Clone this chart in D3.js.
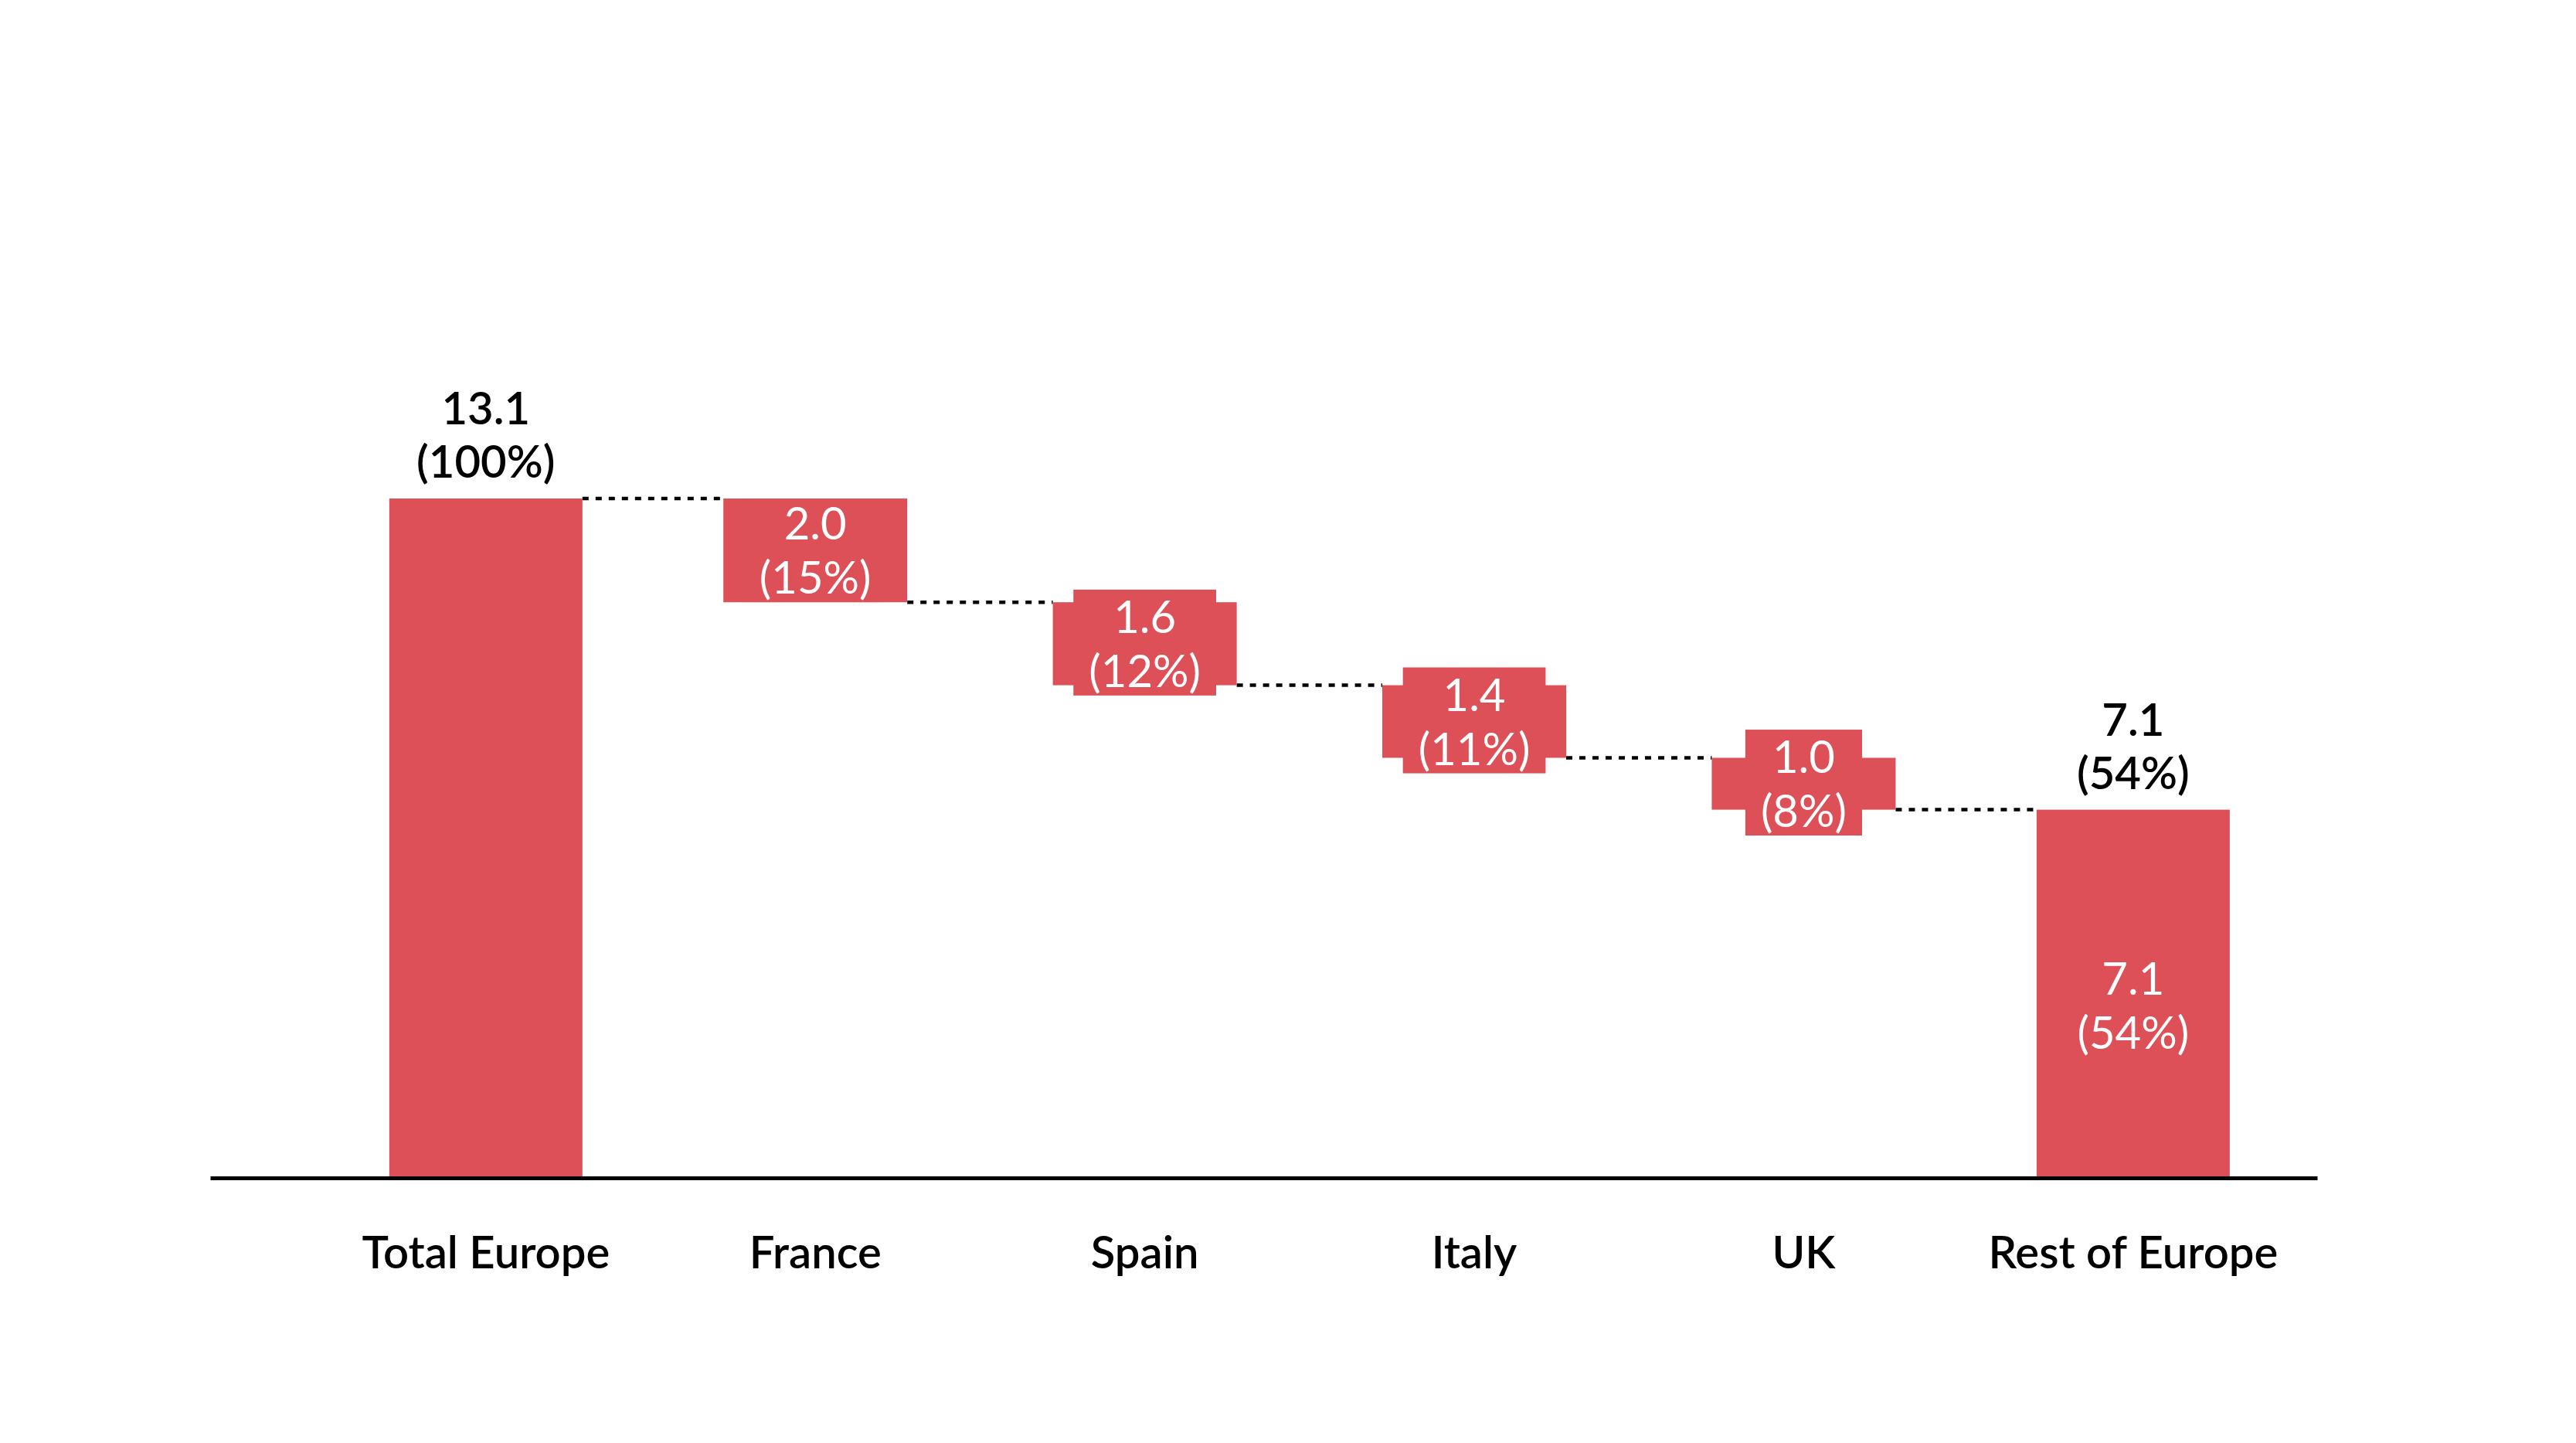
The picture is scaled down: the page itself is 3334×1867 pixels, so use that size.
<!DOCTYPE html>
<html>
<head>
<meta charset="utf-8">
<script src="https://cdn.jsdelivr.net/npm/d3@7"></script>
<style>
  html, body { margin: 0; padding: 0; background: #ffffff; }
  svg { display: block; }
</style>
</head>
<body>
<script>
// ---- data ----
const categories = ["Total Europe", "France", "Spain", "Italy", "UK", "Rest of Europe"];
const values = [13.1, 2.0, 1.6, 1.4, 1.0, 7.1];
const barTypes = ["total", "delta", "delta", "delta", "delta", "total"];
const valueLabels = ["13.1", "2.0", "1.6", "1.4", "1.0", "7.1"];
const shareLabels = ["(100%)", "(15%)", "(12%)", "(11%)", "(8%)", "(54%)"];
const showInside = [false, true, true, true, true, true];

// ---- layout ----
const W = 3334, H = 1867;
const baseY = 1524;
const topY = 645;
const RED = "#DD5057";
const FONT = "Lato, 'Open Sans', sans-serif";
const FS = 58;

const svg = d3.select("body").append("svg")
  .attr("width", W).attr("height", H)
  .attr("viewBox", `0 0 ${W} ${H}`);

const x = d3.scaleBand()
  .domain(categories)
  .range([272, 2999])
  .paddingInner(0.4137)
  .paddingOuter(0.4045)
  .align(0.672);

const y = d3.scaleLinear()
  .domain([0, d3.max(values)])
  .range([baseY, topY]);

// compute waterfall segments
let running = 0;
const bars = categories.map((c, i) => {
  let lo, hi;
  if (barTypes[i] === "total") {
    lo = 0; hi = values[i]; running = values[i];
  } else {
    hi = running; lo = running - values[i]; running = lo;
  }
  return { cat: c, i, lo, hi, type: barTypes[i], level: barTypes[i] === "total" ? hi : lo };
});

const bw = x.bandwidth();
const inset = 6;
const left = d => x(d.cat) + (d.type === "delta" ? inset : 0);
const right = d => x(d.cat) + bw - (d.type === "delta" ? inset : 0);

// connectors
const conn = bars.slice(0, -1).map((d, k) => ({ x1: right(d), x2: left(bars[k + 1]), yv: d.level }));
svg.append("g").selectAll("line").data(conn).join("line")
  .attr("x1", d => d.x1).attr("x2", d => d.x2)
  .attr("y1", d => y(d.yv)).attr("y2", d => y(d.yv))
  .attr("stroke", "#000").attr("stroke-width", 4.5)
  .attr("stroke-dasharray", "8,9");

// bars
svg.append("g").selectAll("rect").data(bars).join("rect")
  .attr("x", d => left(d))
  .attr("width", d => right(d) - left(d))
  .attr("y", d => y(d.hi))
  .attr("height", d => y(d.lo) - y(d.hi))
  .attr("fill", RED);

// inner labels
const inner = svg.append("g").selectAll("g").data(bars.filter(d => showInside[d.i])).join("g");
inner.each(function(d) {
  const g = d3.select(this);
  const top = y(d.hi), bot = y(d.lo);
  const mid = (top + bot) / 2;
  const cx = x(d.cat) + bw / 2;
  const b1 = d.type === "delta" ? mid - 14 : mid + 1;
  const t = g.append("text")
    .attr("text-anchor", "middle")
    .attr("font-family", FONT)
    .attr("font-size", FS)
    .attr("font-weight", 400)
    .attr("fill", "#ffffff");
  t.append("tspan").attr("x", cx).attr("y", b1).text(valueLabels[d.i]);
  t.append("tspan").attr("x", cx).attr("y", b1 + 70).text(shareLabels[d.i]);
  if (d.type === "delta") {
    const bb = t.node().getBBox();
    let r0 = bb.y + 1, r1 = bb.y + bb.height - 1;
    // snap label background to bar edges when it would barely stick out
    if (r0 < top && top - r0 < 8) r0 = top;
    if (r1 > bot && r1 - bot < 8) r1 = bot;
    g.insert("rect", "text")
      .attr("x", bb.x - 20)
      .attr("width", bb.width + 40)
      .attr("y", r0)
      .attr("height", r1 - r0)
      .attr("fill", RED);
  }
});

// top labels for totals
const tops = bars.filter(d => d.type === "total");
const topText = svg.append("g").selectAll("text").data(tops).join("text")
  .attr("text-anchor", "middle")
  .attr("font-family", FONT)
  .attr("font-size", FS)
  .attr("font-weight", 600)
  .attr("fill", "#000");
topText.append("tspan")
  .attr("x", d => x(d.cat) + bw / 2)
  .attr("y", d => y(d.hi) - 96)
  .text(d => valueLabels[d.i]);
topText.append("tspan")
  .attr("x", d => x(d.cat) + bw / 2)
  .attr("y", d => y(d.hi) - 27)
  .text(d => shareLabels[d.i]);

// x axis
const axis = svg.append("g")
  .attr("transform", `translate(0,${baseY})`)
  .call(d3.axisBottom(x).tickSize(0).tickSizeOuter(0).tickPadding(0));
axis.select(".domain").attr("stroke", "#000").attr("stroke-width", 5);
axis.selectAll(".tick text")
  .attr("y", 117).attr("dy", 0)
  .attr("font-family", FONT)
  .attr("font-size", FS)
  .attr("font-weight", 600)
  .attr("fill", "#000");
</script>
</body>
</html>
